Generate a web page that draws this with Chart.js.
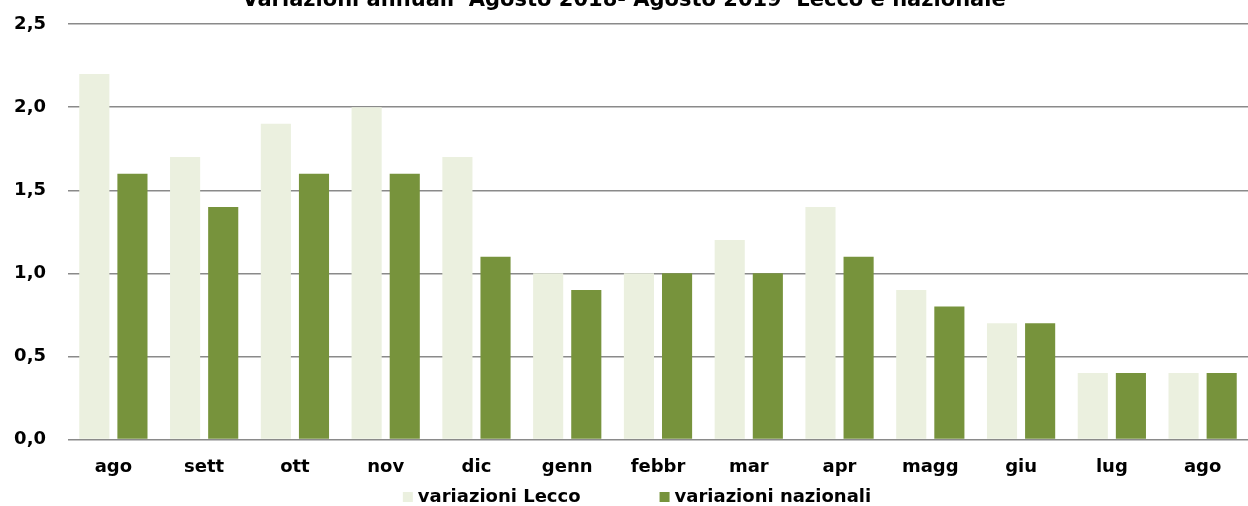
<!DOCTYPE html>
<html>
<head>
<meta charset="utf-8">
<script src="https://cdn.jsdelivr.net/npm/chart.js@4"></script>
<style>
html,body{margin:0;padding:0;background:#fff;overflow:hidden;}
#wrap{position:absolute;left:0;top:-14px;width:1248px;height:520px;}
</style>
</head>
<body>
<div id="wrap"><canvas id="c"></canvas></div>
<script>
const categories = ["ago","sett","ott","nov","dic","genn","febbr","mar","apr","magg","giu","lug","ago"];
const lecco = [2.2,1.7,1.9,2.0,1.7,1.0,1.0,1.2,1.4,0.9,0.7,0.4,0.4];
const nazionale = [1.6,1.4,1.6,1.6,1.1,0.9,1.0,1.0,1.1,0.8,0.7,0.4,0.4];
const seriesNames = ["variazioni Lecco","variazioni nazionali"];
const titleText = "Variazioni annuali  Agosto 2018- Agosto 2019  Lecco e nazionale";
const colors = ['#EBF0DF', '#77933C'];

const FONT = "'DejaVu Sans', sans-serif";

const bottomLegend = {
  id: 'bottomLegend',
  afterDraw(chart) {
    const ctx = chart.ctx;
    ctx.save();
    ctx.font = "bold 18px " + FONT;
    ctx.textBaseline = 'middle';
    const box = 10, gapBox = 5, gapItem = 79;
    const ds = chart.data.datasets;
    const widths = ds.map(d => box + gapBox + ctx.measureText(d.label).width);
    const total = widths.reduce((a, b) => a + b, 0) + gapItem * (ds.length - 1);
    let x = chart.width / 2 + 13 - total / 2;
    const y = 511;
    ds.forEach((d, i) => {
      ctx.fillStyle = d.backgroundColor;
      ctx.fillRect(x, y - 5, box, box);
      ctx.fillStyle = '#000';
      ctx.textAlign = 'left';
      ctx.fillText(d.label, x + box + gapBox, y);
      x += widths[i] + gapItem;
    });
    ctx.restore();
  }
};

new Chart(document.getElementById('c'), {
  type: 'bar',
  data: {
    labels: categories,
    datasets: [
      {label: seriesNames[0], data: lecco, backgroundColor: colors[0], categoryPercentage: 0.84, barPercentage: 0.79},
      {label: seriesNames[1], data: nazionale, backgroundColor: colors[1], categoryPercentage: 0.84, barPercentage: 0.79}
    ]
  },
  plugins: [bottomLegend],
  options: {
    responsive: true,
    maintainAspectRatio: false,
    animation: false,
    layout: {padding: {top: 0, right: 0, bottom: 11, left: 0}},
    plugins: {
      title: {display: true, text: titleText, color: '#000', font: {family: FONT, size: 21, weight: 'bold'}, padding: {top: 2, bottom: 11}},
      legend: {display: false},
      tooltip: {enabled: false}
    },
    scales: {
      x: {
        grid: {display: false, drawTicks: false},
        border: {display: false},
        ticks: {color: '#000', font: {family: FONT, size: 18, weight: 'bold'}, padding: 17}
      },
      y: {
        min: 0, max: 2.5,
        afterFit: (s) => { s.width = 68; },
        grid: {color: '#8a8a8a', lineWidth: 1.5, drawTicks: false},
        border: {display: false},
        ticks: {stepSize: 0.5, color: '#000', padding: 22, font: {family: FONT, size: 18, weight: 'bold'},
          callback: (v) => v.toFixed(1).replace('.', ',')}
      }
    }
  }
});
</script>
</body>
</html>
